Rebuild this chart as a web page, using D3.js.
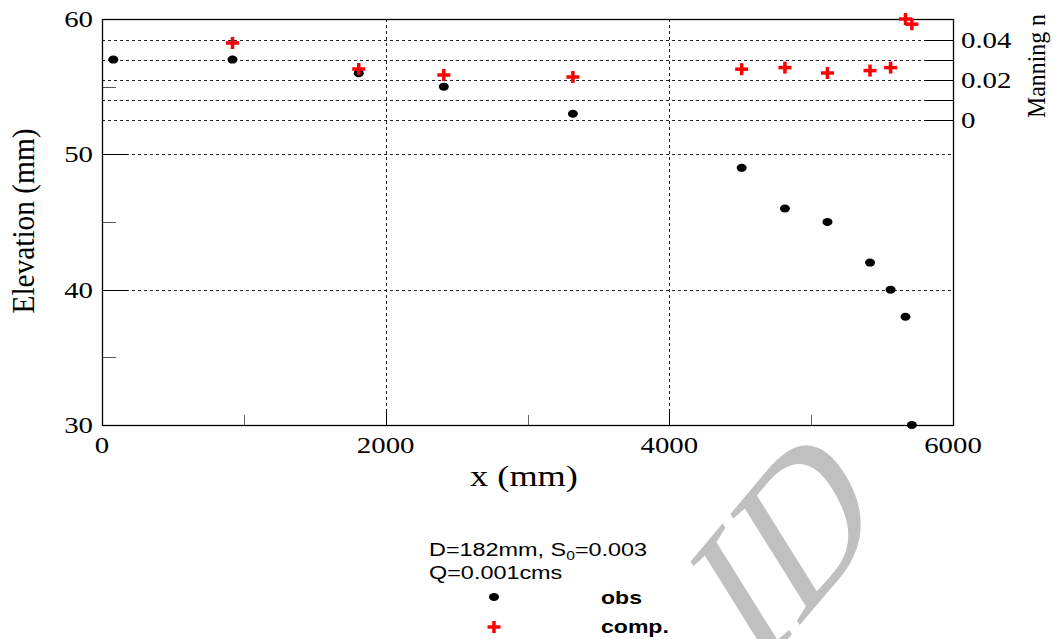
<!DOCTYPE html>
<html>
<head>
<meta charset="utf-8">
<script src="https://d3js.org/d3.v7.min.js"></script>
<style>
	body { margin: 0; background: #fff; }
	svg { display: block; }
</style>
</head>
<body>
<div id="chart"></div>
<script>
// observed bed elevation (mm) along the pipe
var obsX = [80, 920, 1810, 2410, 3320, 4510, 4815, 5115, 5415, 5560, 5665, 5710];
var obsElev = [57, 57, 56, 55, 53, 49, 46, 45, 42, 40, 38, 30];

// computed Manning n (right axis)
var compX = [920, 1810, 2410, 3320, 4510, 4815, 5115, 5415, 5560, 5665, 5710];
var compN = [0.0385, 0.0255, 0.0225, 0.0215, 0.0254, 0.0262, 0.0235, 0.0247, 0.0262, 0.0505, 0.0479];

var xTicks = [0, 2000, 4000, 6000];
var xMinor = [1000, 3000, 5000];
var yTicks = [30, 40, 50, 60];
var yMinor = [35, 45, 55];
var nTicks = [0, 0.01, 0.02, 0.03, 0.04];
var nLabels = [0, 0.02, 0.04];

var W = 1053, H = 639;
var plot = {left: 102, right: 953, top: 19, bottom: 425};

var svg = d3.select('#chart').append('svg')
	.attr('width', W)
	.attr('height', H);

var x = d3.scaleLinear().domain([0, 6000]).range([plot.left, plot.right]);
var y = d3.scaleLinear().domain([30, 60]).range([plot.bottom, plot.top]);
var yn = d3.scaleLinear().domain([0, 0.05]).range([120, 20]);

var serif = '"Liberation Serif", "Times New Roman", serif';
var sans = '"Liberation Sans", Arial, sans-serif';

// stretch text sideways (the original labels are wide)
function stretch(sel, k) {
	sel.each(function() {
		var w = this.getComputedTextLength();
		d3.select(this).attr('textLength', w * k).attr('lengthAdjust', 'spacingAndGlyphs');
	});
}

// watermark, behind everything
svg.append('text')
	.attr('transform', 'translate(785,545) rotate(-50) skewX(-18)')
	.attr('text-anchor', 'middle')
	.attr('dy', '0.33em')
	.style('font-family', serif)
	.style('font-size', '190px')
	.attr('fill', '#c0c0c0')
	.text('ID');

var grid = svg.append('g').attr('fill', 'none').attr('stroke', '#222').attr('stroke-width', 1).attr('stroke-dasharray', '3,3');

// manning grid
grid.selectAll('.ngrid').data(nTicks).enter().append('line')
	.attr('x1', plot.left).attr('x2', plot.right)
	.attr('y1', function(d) { return Math.round(yn(d)) + 0.5; })
	.attr('y2', function(d) { return Math.round(yn(d)) + 0.5; });

// elevation grid
grid.selectAll('.ygrid').data([40, 50]).enter().append('line')
	.attr('x1', plot.left).attr('x2', plot.right)
	.attr('y1', function(d) { return Math.round(y(d)) + 0.5; })
	.attr('y2', function(d) { return Math.round(y(d)) + 0.5; });

// x grid
grid.selectAll('.xgrid').data([2000, 4000]).enter().append('line')
	.attr('y1', plot.top).attr('y2', plot.bottom)
	.attr('x1', function(d) { return Math.round(x(d)) + 0.5; })
	.attr('x2', function(d) { return Math.round(x(d)) + 0.5; });

var ticks = svg.append('g').attr('stroke', '#000').attr('stroke-width', 1);

// left axis ticks
ticks.selectAll('.ymaj').data(yTicks).enter().append('line')
	.attr('x1', plot.left).attr('x2', plot.left + 26)
	.attr('y1', function(d) { return Math.round(y(d)) + 0.5; })
	.attr('y2', function(d) { return Math.round(y(d)) + 0.5; });
ticks.selectAll('.ymin').data(yMinor).enter().append('line')
	.attr('x1', plot.left).attr('x2', plot.left + 14)
	.attr('stroke', '#555')
	.attr('y1', function(d) { return Math.round(y(d)) + 0.5; })
	.attr('y2', function(d) { return Math.round(y(d)) + 0.5; });

// bottom ticks
ticks.selectAll('.xmaj').data(xTicks).enter().append('line')
	.attr('y1', plot.bottom).attr('y2', plot.bottom - 16)
	.attr('x1', function(d) { return Math.round(x(d)) + 0.5; })
	.attr('x2', function(d) { return Math.round(x(d)) + 0.5; });
ticks.selectAll('.xmin').data(xMinor).enter().append('line')
	.attr('y1', plot.bottom).attr('y2', plot.bottom - 10)
	.attr('stroke', '#666')
	.attr('x1', function(d) { return Math.round(x(d)) + 0.5; })
	.attr('x2', function(d) { return Math.round(x(d)) + 0.5; });

// right axis ticks
ticks.selectAll('.nmaj').data(nTicks).enter().append('line')
	.attr('x1', plot.right - 28).attr('x2', plot.right)
	.attr('y1', function(d) { return Math.round(yn(d)) + 0.5; })
	.attr('y2', function(d) { return Math.round(yn(d)) + 0.5; });

// frame
svg.append('rect')
	.attr('x', plot.left + 0.5).attr('y', plot.top + 0.5)
	.attr('width', plot.right - plot.left).attr('height', plot.bottom - plot.top)
	.attr('fill', 'none').attr('stroke', '#000').attr('stroke-width', 1.3);

// tick labels
var lab = svg.append('g').style('font-family', serif).style('font-size', '24px').attr('fill', '#000');

lab.selectAll('.yl').data(yTicks).enter().append('text')
	.attr('x', 93).attr('y', function(d) { return y(d); })
	.attr('dy', '0.33em')
	.attr('text-anchor', 'end')
	.text(function(d) { return d; })
	.call(stretch, 1.2);

lab.selectAll('.xl').data(xTicks).enter().append('text')
	.attr('x', function(d) { return x(d); }).attr('y', 453)
	.attr('text-anchor', 'middle')
	.text(function(d) { return d; })
	.call(stretch, 1.2);

lab.selectAll('.nl').data(nLabels).enter().append('text')
	.attr('x', 961).attr('y', function(d) { return yn(d); })
	.attr('dy', '0.33em')
	.text(function(d) { return d; })
	.call(stretch, 1.2);

// axis titles
svg.append('text')
	.attr('x', 524).attr('y', 486)
	.attr('text-anchor', 'middle')
	.style('font-family', serif).style('font-size', '29px')
	.text('x (mm)')
	.call(stretch, 1.25);

svg.append('text')
	.attr('transform', 'translate(34,221) rotate(-90)')
	.attr('text-anchor', 'middle')
	.style('font-family', serif).style('font-size', '31px')
	.attr('textLength', 185).attr('lengthAdjust', 'spacingAndGlyphs')
	.text('Elevation (mm)');

svg.append('text')
	.attr('transform', 'translate(1045,66) rotate(-90)')
	.attr('text-anchor', 'middle')
	.style('font-family', serif).style('font-size', '26px')
	.attr('textLength', 104).attr('lengthAdjust', 'spacingAndGlyphs')
	.text('Manning n');

// markers
function cross(g) {
	g.append('line').attr('x1', -6.5).attr('x2', 6.5).attr('y1', 0).attr('y2', 0);
	g.append('line').attr('x1', 0).attr('x2', 0).attr('y1', -6).attr('y2', 6);
}

svg.append('g').selectAll('ellipse')
	.data(d3.range(obsX.length)).enter().append('ellipse')
	.attr('cx', function(i) { return x(obsX[i]); })
	.attr('cy', function(i) { return y(obsElev[i]); })
	.attr('rx', 5).attr('ry', 4)
	.attr('fill', '#000');

svg.append('g').attr('stroke', '#ff0000').attr('stroke-width', 3.5)
	.selectAll('g').data(d3.range(compX.length)).enter().append('g')
	.attr('transform', function(i) { return 'translate(' + x(compX[i]) + ',' + yn(compN[i]) + ')'; })
	.each(function() { cross(d3.select(this)); });

// legend
var leg = svg.append('g').style('font-family', sans).attr('fill', '#000');

var t1 = leg.append('text').attr('x', 429).attr('y', 556).style('font-size', '18px');
t1.append('tspan').text('D=182mm, S');
t1.append('tspan').attr('dy', 4).style('font-size', '12px').text('0');
t1.append('tspan').attr('dy', -4).text('=0.003');
t1.call(stretch, 1.3);

leg.append('text').attr('x', 429).attr('y', 579).style('font-size', '18px').text('Q=0.001cms')
	.call(stretch, 1.3);

leg.append('ellipse').attr('cx', 494).attr('cy', 597).attr('rx', 5).attr('ry', 4).attr('fill', '#000');
leg.append('text').attr('x', 601).attr('y', 604).style('font-size', '18px').style('font-weight', 'bold').text('obs')
	.call(stretch, 1.28);

var lc = leg.append('g').attr('transform', 'translate(494,627)').attr('stroke', '#ff0000').attr('stroke-width', 3.5);
cross(lc);
leg.append('text').attr('x', 601).attr('y', 633).style('font-size', '18px').style('font-weight', 'bold').text('comp.')
	.call(stretch, 1.28);
</script>
</body>
</html>
